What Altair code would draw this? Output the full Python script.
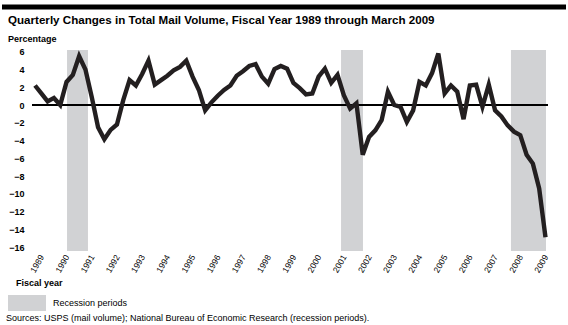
import altair as alt
import pandas as pd

# Quarterly percentage change in total mail volume, FY1989 Q1 .. FY2009 Q2
values = [
    2.2, 1.3, 0.4, 0.8, 0.0, 2.6, 3.4, 5.5, 4.0, 0.9,
    -2.5, -3.85, -2.8, -2.2, 0.55, 2.8, 2.2, 3.5, 5.0, 2.3,
    2.8, 3.3, 3.9, 4.3, 5.0, 3.2, 1.7, -0.6, 0.3, 1.05,
    1.7, 2.2, 3.3, 3.8, 4.4, 4.6, 3.2, 2.4, 4.05, 4.4,
    4.1, 2.5, 1.9, 1.2, 1.3, 3.2, 4.1, 2.5, 3.4, 1.1,
    -0.4, 0.2, -5.6, -3.6, -2.85, -1.7, 1.5, 0.0, -0.2, -1.9,
    -0.6, 2.6, 2.2, 3.6, 5.8, 1.3, 2.2, 1.5, -1.6, 2.2,
    2.3, -0.2, 2.3, -0.6, -1.3, -2.3, -3.0, -3.4, -5.6, -6.6,
    -9.4, -14.9,
]
fiscal_years = [1989 + i // 4 for i in range(len(values))]
quarters = [i % 4 + 1 for i in range(len(values))]

# Recession periods (positions on the fiscal-year axis)
rec_start = [1990.02, 2000.89, 2007.63]
rec_end = [1990.85, 2001.76, 2009.02]

year_ticks = list(range(1989, 2010))
y_ticks = list(range(-16, 7, 2))

df = pd.DataFrame({
    "fy": fiscal_years,
    "q": quarters,
    "value": values,
})
df["t"] = df["fy"] - 1 + 0.75 + 0.25 * (df["q"] - 1)

rec = pd.DataFrame({"start": rec_start, "end": rec_end})

W, H = 516, 201
FONT = "Liberation Sans"

xscale = alt.Scale(domain=[1988.63, 2009.1], nice=False, zero=False)
yscale = alt.Scale(domain=[-16.45, 6.2], nice=False, zero=False)

xaxis = alt.Axis(values=year_ticks, format="d", title=None, labelAngle=-60,
                 labelAlign="right", labelBaseline="middle", labelPadding=4,
                 labelFontSize=8.5, labelFont=FONT, labelColor="#000",
                 domain=False, ticks=False, grid=False, labelOverlap=False,
                 labelBound=False, labelFlush=False)
yaxis = alt.Axis(values=y_ticks, title=None, labelFontSize=9,
                 labelFontWeight="bold", labelFont=FONT, labelColor="#000",
                 labelPadding=8, domain=False, ticks=False, grid=False,
                 labelOverlap=False, labelBound=False, labelFlush=False)

shade = alt.Chart(rec).mark_rect(color="#d1d2d4").encode(
    x=alt.X("start:Q", scale=xscale, axis=xaxis),
    x2="end:Q",
    y=alt.value(0),
    y2=alt.value(H),
)

zero = alt.Chart(df).mark_rule(color="#000", strokeWidth=2).encode(
    y=alt.datum(0, scale=yscale, axis=yaxis),
)

line = alt.Chart(df).mark_line(color="#231f20", strokeWidth=4.4, strokeJoin="miter").encode(
    x=alt.X("t:Q", scale=xscale, axis=xaxis),
    y=alt.Y("value:Q", scale=yscale, axis=yaxis),
)

def txt(s, x, y, size=9, weight="normal"):
    return alt.Chart(df.head(1)).mark_text(
        text=s, align="left", baseline="middle", fontSize=size, fontWeight=weight,
        font=FONT, color="#000").encode(x=alt.value(x), y=alt.value(y))

top_bar = alt.Chart(df.head(1)).mark_rule(color="#000", strokeWidth=5).encode(
    x=alt.value(-30), x2=alt.value(534), y=alt.value(-43))

title = txt("Quarterly Changes in Total Mail Volume, Fiscal Year 1989 through March 2009",
            -24, -29, size=11.6, weight="bold")
ylab = txt("Percentage", -24, -11.5, size=9, weight="bold")
xlab = txt("Fiscal year", -16, 233, size=9, weight="bold")
leg_box = alt.Chart(df.head(1)).mark_rect(color="#d1d2d4").encode(
    x=alt.value(-24), x2=alt.value(14), y=alt.value(245), y2=alt.value(261))
leg_txt = txt("Recession periods", 21, 253, size=9)
source = txt("Sources: USPS (mail volume); National Bureau of Economic Research (recession periods).",
             -26, 268, size=9)

chart = alt.layer(
    shade, zero, line, top_bar, title, ylab, xlab, leg_box, leg_txt, source
).properties(
    width=W, height=H,
    autosize=alt.AutoSizeParams(type="none"),
    padding={"left": 32, "top": 50, "right": 20, "bottom": 74},
    background="white",
).configure_view(stroke=None)

chart.save("out.html", embed_options={"renderer": "svg", "actions": False})
